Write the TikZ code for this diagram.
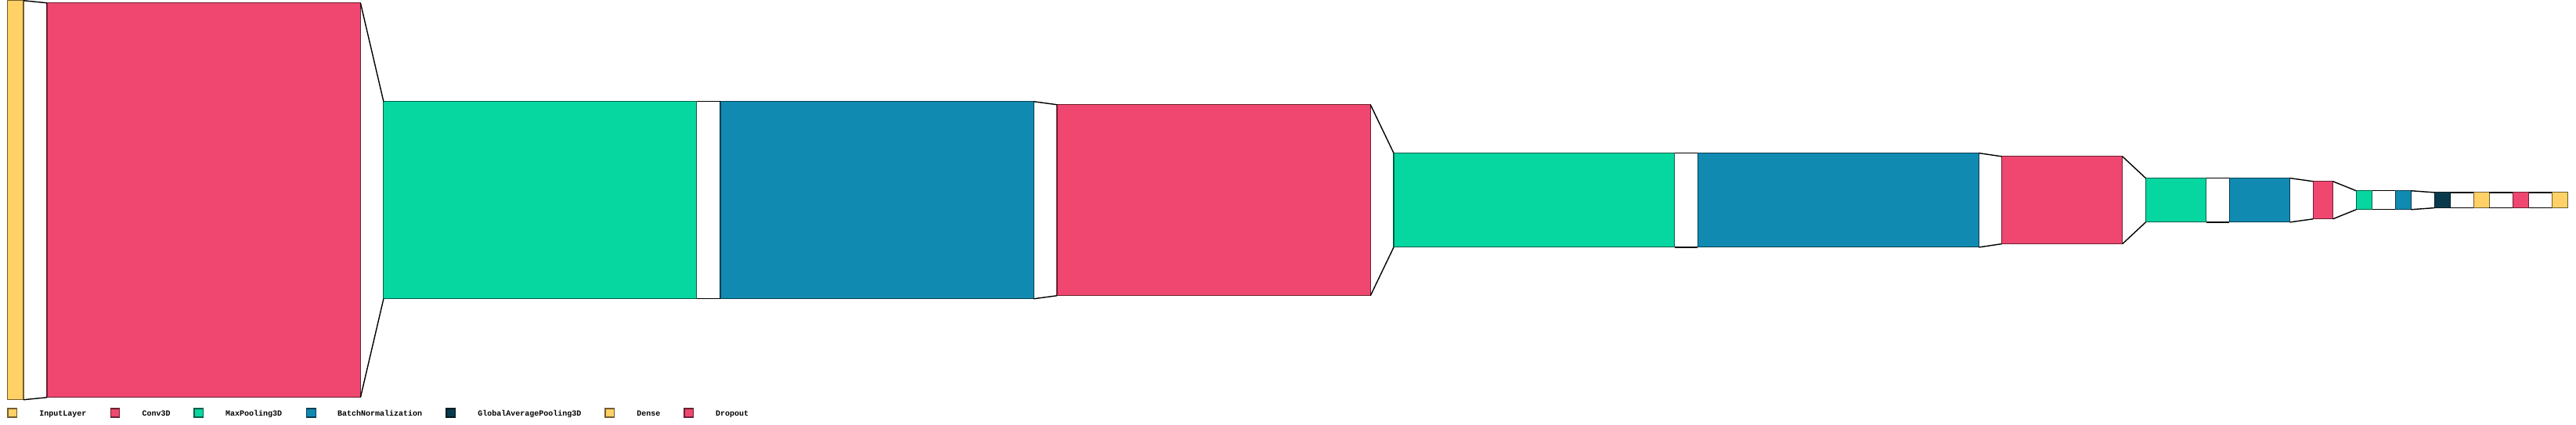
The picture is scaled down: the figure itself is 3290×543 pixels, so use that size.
\documentclass[tikz,border=0pt]{standalone}
\usepackage{fontspec}
\setmonofont{Liberation Mono}
\definecolor{cyel}{HTML}{FFD166}
\definecolor{cred}{HTML}{EF476F}
\definecolor{cgrn}{HTML}{06D6A0}
\definecolor{cblu}{HTML}{118AB2}
\definecolor{cdrk}{HTML}{073B4C}
\tikzset{
  layer/.style={draw=#1!45!black, fill=#1, line width=1.1pt, inner sep=0pt, outer sep=0pt, anchor=west},
  funnel/.style={draw=black, line width=1.4pt},
  legbox/.style={draw=#1!45!black, fill=#1, line width=1.1pt, minimum width=11.5pt, minimum height=11pt, inner sep=0pt, outer sep=0pt, anchor=north west},
  legtext/.style={anchor=base west, inner sep=0pt, font=\fontsize{10}{12}\selectfont\ttfamily\bfseries}
}
\begin{document}
\begin{tikzpicture}[x=1pt,y=-1pt]
\useasboundingbox (0,0) rectangle (3290,543);
% layers
\node[layer=cyel, minimum width=20.4pt,  minimum height=510pt]   (in)  at (9.6,255.75) {};
\node[layer=cred, minimum width=400.4pt, minimum height=504pt]   (c1)  at (60,255.75) {};
\node[layer=cgrn, minimum width=399.7pt, minimum height=252pt]   (mp1) at (489.9,255.75) {};
\node[layer=cblu, minimum width=400.3pt, minimum height=252pt]   (bn1) at (920,255.75) {};
\node[layer=cred, minimum width=400.3pt, minimum height=244pt]   (c2)  at (1350,255.75) {};
\node[layer=cgrn, minimum width=358.6pt, minimum height=120.3pt] (mp2) at (1780,255.75) {};
\node[layer=cblu, minimum width=359pt,   minimum height=120.3pt] (bn2) at (2168.4,255.75) {};
\node[layer=cred, minimum width=154.2pt, minimum height=111.7pt] (c3)  at (2556.5,255.75) {};
\node[layer=cgrn, minimum width=77.4pt,  minimum height=56.3pt]  (mp3) at (2740.4,255.75) {};
\node[layer=cblu, minimum width=77.5pt,  minimum height=56.3pt]  (bn3) at (2847.1,255.75) {};
\node[layer=cred, minimum width=25.2pt,  minimum height=48pt]    (c4)  at (2954.3,255.75) {};
\node[layer=cgrn, minimum width=20.3pt,  minimum height=24pt]    (mp4) at (3009.3,255.75) {};
\node[layer=cblu, minimum width=19.9pt,  minimum height=24pt]    (bn4) at (3059.3,255.75) {};
\node[layer=cdrk, minimum width=20.3pt,  minimum height=19.7pt]  (gap) at (3109.3,255.75) {};
\node[layer=cyel, minimum width=19.9pt,  minimum height=19.7pt]  (d1)  at (3159.4,255.75) {};
\node[layer=cred, minimum width=20.3pt,  minimum height=19.7pt]  (dr)  at (3209.4,255.75) {};
\node[layer=cyel, minimum width=20pt,    minimum height=19.7pt]  (d2)  at (3259.4,255.75) {};
% funnels
\foreach \a/\b in {in/c1,c1/mp1,mp1/bn1,bn1/c2,c2/mp2,mp2/bn2,bn2/c3,c3/mp3,mp3/bn3,bn3/c4,c4/mp4,mp4/bn4,bn4/gap,gap/d1,d1/dr,dr/d2}{
  \draw[funnel] (\a.north east) -- (\b.north west);
  \draw[funnel] (\a.south east) -- (\b.south west);
}
% legend
\node[legbox=cyel] (lb1) at (10,522) {};
\node[legtext] (lt1) at (50.2,531) {InputLayer};
\node[legbox=cred] (lb2) at (141.3,522) {};
\node[legtext] (lt2) at (181.5,531) {Conv3D};
\node[legbox=cgrn] (lb3) at (248,522) {};
\node[legtext] (lt3) at (288,531) {MaxPooling3D};
\node[legbox=cblu] (lb4) at (391.6,522) {};
\node[legtext] (lt4) at (431,531) {BatchNormalization};
\node[legbox=cdrk] (lb5) at (570,522) {};
\node[legtext] (lt5) at (610.2,531) {GlobalAveragePooling3D};
\node[legbox=cyel] (lb6) at (773,522) {};
\node[legtext] (lt6) at (813.2,531) {Dense};
\node[legbox=cred] (lb7) at (874,522) {};
\node[legtext] (lt7) at (913.8,531) {Dropout};
\end{tikzpicture}
\end{document}
